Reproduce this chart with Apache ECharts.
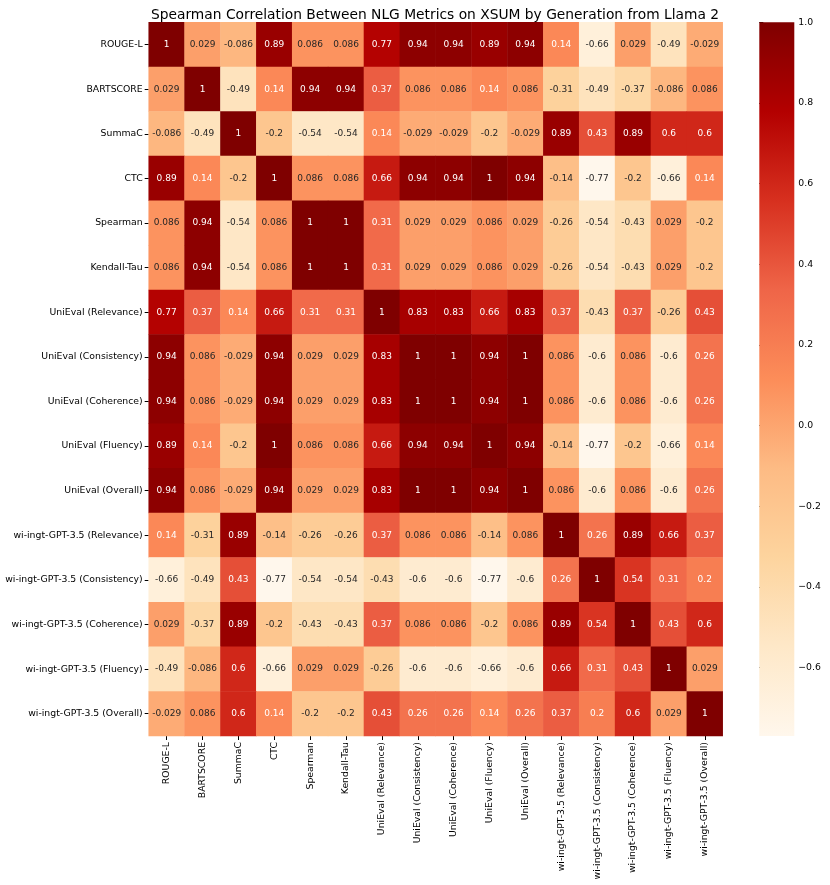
<!DOCTYPE html>
<html>
<head>
<meta charset="utf-8">
<script src="https://cdn.jsdelivr.net/npm/echarts@6/dist/echarts.min.js"></script>
<style>
  html, body { margin: 0; padding: 0; background: #fff; }
  #main { width: 830px; height: 885px; }
</style>
</head>
<body>
<div id="main"></div>
<script>
// metric names (rows top->bottom, columns left->right)
var metrics = [
  'ROUGE-L', 'BARTSCORE', 'SummaC', 'CTC', 'Spearman', 'Kendall-Tau',
  'UniEval (Relevance)', 'UniEval (Consistency)', 'UniEval (Coherence)',
  'UniEval (Fluency)', 'UniEval (Overall)',
  'wi-ingt-GPT-3.5 (Relevance)', 'wi-ingt-GPT-3.5 (Consistency)',
  'wi-ingt-GPT-3.5 (Coherence)', 'wi-ingt-GPT-3.5 (Fluency)', 'wi-ingt-GPT-3.5 (Overall)'
];

// correlation rows
var rougeL      = [1, 0.029, -0.086, 0.89, 0.086, 0.086, 0.77, 0.94, 0.94, 0.89, 0.94, 0.14, -0.66, 0.029, -0.49, -0.029];
var bartscore   = [0.029, 1, -0.49, 0.14, 0.94, 0.94, 0.37, 0.086, 0.086, 0.14, 0.086, -0.31, -0.49, -0.37, -0.086, 0.086];
var summac      = [-0.086, -0.49, 1, -0.2, -0.54, -0.54, 0.14, -0.029, -0.029, -0.2, -0.029, 0.89, 0.43, 0.89, 0.6, 0.6];
var ctc         = [0.89, 0.14, -0.2, 1, 0.086, 0.086, 0.66, 0.94, 0.94, 1, 0.94, -0.14, -0.77, -0.2, -0.66, 0.14];
var spearman    = [0.086, 0.94, -0.54, 0.086, 1, 1, 0.31, 0.029, 0.029, 0.086, 0.029, -0.26, -0.54, -0.43, 0.029, -0.2];
var kendall     = [0.086, 0.94, -0.54, 0.086, 1, 1, 0.31, 0.029, 0.029, 0.086, 0.029, -0.26, -0.54, -0.43, 0.029, -0.2];
var uniRel      = [0.77, 0.37, 0.14, 0.66, 0.31, 0.31, 1, 0.83, 0.83, 0.66, 0.83, 0.37, -0.43, 0.37, -0.26, 0.43];
var uniCons     = [0.94, 0.086, -0.029, 0.94, 0.029, 0.029, 0.83, 1, 1, 0.94, 1, 0.086, -0.6, 0.086, -0.6, 0.26];
var uniCoh      = [0.94, 0.086, -0.029, 0.94, 0.029, 0.029, 0.83, 1, 1, 0.94, 1, 0.086, -0.6, 0.086, -0.6, 0.26];
var uniFlu      = [0.89, 0.14, -0.2, 1, 0.086, 0.086, 0.66, 0.94, 0.94, 1, 0.94, -0.14, -0.77, -0.2, -0.66, 0.14];
var uniOver     = [0.94, 0.086, -0.029, 0.94, 0.029, 0.029, 0.83, 1, 1, 0.94, 1, 0.086, -0.6, 0.086, -0.6, 0.26];
var gptRel      = [0.14, -0.31, 0.89, -0.14, -0.26, -0.26, 0.37, 0.086, 0.086, -0.14, 0.086, 1, 0.26, 0.89, 0.66, 0.37];
var gptCons     = [-0.66, -0.49, 0.43, -0.77, -0.54, -0.54, -0.43, -0.6, -0.6, -0.77, -0.6, 0.26, 1, 0.54, 0.31, 0.2];
var gptCoh      = [0.029, -0.37, 0.89, -0.2, -0.43, -0.43, 0.37, 0.086, 0.086, -0.2, 0.086, 0.89, 0.54, 1, 0.43, 0.6];
var gptFlu      = [-0.49, -0.086, 0.6, -0.66, 0.029, 0.029, -0.26, -0.6, -0.6, -0.66, -0.6, 0.66, 0.31, 0.43, 1, 0.029];
var gptOver     = [-0.029, 0.086, 0.6, 0.14, -0.2, -0.2, 0.43, 0.26, 0.26, 0.14, 0.26, 0.37, 0.2, 0.6, 0.029, 1];

var rows = [rougeL, bartscore, summac, ctc, spearman, kendall, uniRel, uniCons, uniCoh,
            uniFlu, uniOver, gptRel, gptCons, gptCoh, gptFlu, gptOver];

// colour bar range and ticks
var vMin = -0.77, vMax = 1;
var cbarTicks = [-0.6, -0.4, -0.2, 0, 0.2, 0.4, 0.6, 0.8, 1.0];

// OrRd
var orrd = ['#fff7ec', '#fee8c8', '#fdd49e', '#fdbb84', '#fc8d59', '#ef6548', '#d7301f', '#b30000', '#7f0000'];

var FONT = 'DejaVu Sans';

var cells = [];
rows.forEach(function (r, i) {
  r.forEach(function (v, j) {
    cells.push({
      value: [j, i, v],
      label: { color: v >= 0.11 ? '#ffffff' : '#262626' }
    });
  });
});

var myChart = echarts.init(document.getElementById('main'));
myChart.setOption({
  animation: false,
  textStyle: { fontFamily: FONT },
  title: {
    text: 'Spearman Correlation Between NLG Metrics on XSUM by Generation from Llama 2',
    left: 430, top: 3, textAlign: 'center',
    textStyle: { fontFamily: FONT, fontSize: 13.8, fontWeight: 'normal', color: '#000' }
  },
  grid: [
    { left: 148.7, top: 22.3, width: 574, height: 713.7 },
    { left: 759.3, top: 22.3, width: 35, height: 713.7 }
  ],
  xAxis: [{
    type: 'category', gridIndex: 0, data: metrics, position: 'bottom',
    axisLine: { show: false },
    axisTick: { show: true, alignWithLabel: true, length: 4, lineStyle: { color: '#000' } },
    axisLabel: { rotate: 90, interval: 0, fontSize: 9.3, color: '#000', margin: 6, fontFamily: FONT },
    splitLine: { show: false }
  }, {
    type: 'value', gridIndex: 1, min: 0, max: 1, show: false
  }],
  yAxis: [{
    type: 'category', gridIndex: 0, data: metrics, inverse: true,
    axisLine: { show: false },
    axisTick: { show: true, alignWithLabel: true, length: 4, lineStyle: { color: '#000' } },
    axisLabel: { interval: 0, fontSize: 9.3, color: '#000', margin: 6, fontFamily: FONT },
    splitLine: { show: false }
  }, {
    type: 'value', gridIndex: 1, min: vMin, max: vMax, position: 'right',
    axisLine: { show: false },
    axisTick: { show: true, length: 4, lineStyle: { color: '#000' }, customValues: cbarTicks },
    axisLabel: {
      fontSize: 9.3, color: '#000', margin: 4, fontFamily: FONT, customValues: cbarTicks,
      formatter: function (v) { return v.toFixed(1).replace('-', '\u2212'); }
    },
    splitLine: { show: false }
  }],
  visualMap: {
    show: false, type: 'continuous', min: vMin, max: vMax, seriesIndex: 0,
    inRange: { color: orrd }
  },
  series: [{
    type: 'heatmap',
    xAxisIndex: 0, yAxisIndex: 0,
    data: cells,
    label: {
      show: true, fontSize: 9, fontFamily: FONT,
      formatter: function (p) { return String(p.value[2]); }
    },
    itemStyle: { borderWidth: 0 },
    emphasis: { disabled: true }
  }, {
    type: 'custom',
    xAxisIndex: 1, yAxisIndex: 1,
    data: [[0, vMin, vMax]],
    renderItem: function (params, api) {
      var p0 = api.coord([0, api.value(2)]);
      var p1 = api.coord([1, api.value(1)]);
      var stops = orrd.slice().reverse().map(function (c, k) {
        return { offset: k / (orrd.length - 1), color: c };
      });
      return {
        type: 'rect',
        shape: { x: p0[0], y: p0[1], width: p1[0] - p0[0], height: p1[1] - p0[1] },
        style: { fill: new echarts.graphic.LinearGradient(0, 0, 0, 1, stops) }
      };
    },
    silent: true
  }]
});
</script>
</body>
</html>
